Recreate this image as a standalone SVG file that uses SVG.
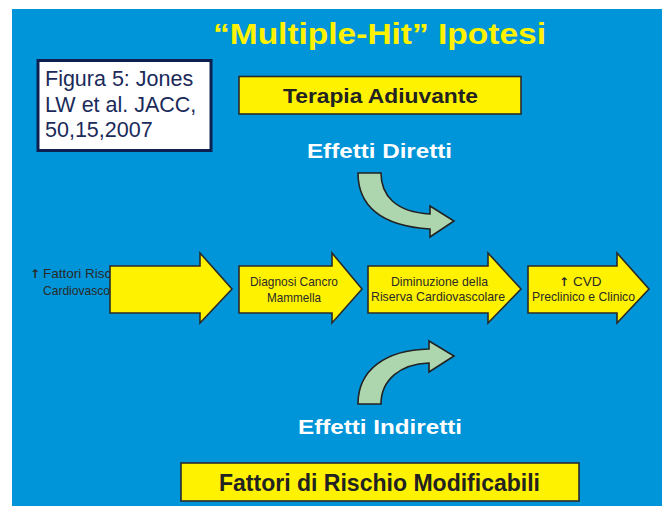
<svg xmlns="http://www.w3.org/2000/svg" width="667" height="506" viewBox="0 0 667 506">
<style>
.hd{font-family:"Liberation Sans",Arial,sans-serif;font-weight:bold;}
.lb{font-family:"Liberation Sans",Arial,sans-serif;font-size:13.5px;fill:#2a2a2a;text-anchor:middle;}
.ar{font-family:"DejaVu Sans",sans-serif;font-weight:bold;}
.box{fill:#FFF200;stroke:#2a2a2a;stroke-width:1.6;}
.blk{fill:#FFF200;stroke:#2a2a2a;stroke-width:1.6;stroke-linejoin:miter;}
.crv{fill:#AED6AE;stroke:#222;stroke-width:1.6;stroke-linejoin:miter;}
.wt{fill:#ffffff;font-size:21px;text-anchor:middle;}
</style>
<rect x="0" y="0" width="667" height="506" fill="#ffffff"/>
<rect x="12" y="9" width="650" height="497" fill="#0094D8"/>

<g id="title">
<text class="hd" x="213" y="44" font-size="30" fill="#FFF200" textLength="333" lengthAdjust="spacingAndGlyphs">“Multiple-Hit” Ipotesi</text>
</g>

<g id="figura">
<rect x="38" y="60.5" width="173" height="90" fill="#ffffff" stroke="#0d2050" stroke-width="3"/>
<text font-family="'Liberation Sans',Arial,sans-serif" font-size="21.5" fill="#1a2a5a">
<tspan x="45" y="86">Figura 5: Jones</tspan>
<tspan x="45" y="111.5">LW et al. JACC,</tspan>
<tspan x="45" y="137">50,15,2007</tspan>
</text>
</g>

<g id="terapia">
<rect class="box" x="239" y="76.5" width="282" height="37.5"/>
<text class="hd" x="380.5" y="103" font-size="21" fill="#222" text-anchor="middle" textLength="195" lengthAdjust="spacingAndGlyphs">Terapia Adiuvante</text>
</g>

<g id="effetti-diretti">
<text class="hd wt" x="379.5" y="158" textLength="145" lengthAdjust="spacingAndGlyphs">Effetti Diretti</text>
</g>

<g id="fattori-cv">
<text class="lb" x="30" y="278" style="text-anchor:start"><tspan class="ar" font-size="12">↑</tspan><tspan dx="3">Fattori Risc</tspan></text>
<text class="lb" x="43" y="295" style="text-anchor:start" textLength="67" lengthAdjust="spacingAndGlyphs">Cardiovasco</text>
</g>

<g id="connectors">
<path class="crv" d="M358,173 L381,173 C381,195 395,212 430,214 L430,206 L454,221 L430,237 L430,229 C380,226 358,205 358,173 Z"/>
<path class="crv" d="M358,404 C358,370 385,350 429,349 L429,341 L454,356 L429,372 L429,363 C400,364 381,380 381,404 Z"/>
<path class="blk" d="M110,266 H200 V253 L232,289 L200,323 V313 H110 Z"/>
</g>

<g id="diagnosi">
<path class="blk" d="M239,266 H332 V253 L362,289 L332,323 V313 H239 Z"/>
<text class="lb" x="294" y="286" textLength="88" lengthAdjust="spacingAndGlyphs">Diagnosi Cancro</text>
<text class="lb" x="294" y="302" textLength="54" lengthAdjust="spacingAndGlyphs">Mammella</text>
</g>

<g id="diminuzione">
<path class="blk" d="M368,266 H488 V253 L521,289 L488,323 V313 H368 Z"/>
<text class="lb" x="439.5" y="286" textLength="97" lengthAdjust="spacingAndGlyphs">Diminuzione della</text>
<text class="lb" x="438" y="301" textLength="134" lengthAdjust="spacingAndGlyphs">Riserva Cardiovascolare</text>
</g>

<g id="cvd">
<path class="blk" d="M528,266 H617 V253 L649,289 L617,323 V313 H528 Z"/>
<text class="lb" x="559" y="286" style="text-anchor:start"><tspan class="ar" font-size="12">↑</tspan><tspan dx="4">CVD</tspan></text>
<text class="lb" x="583.5" y="301" textLength="103" lengthAdjust="spacingAndGlyphs">Preclinico e Clinico</text>
</g>

<g id="effetti-indiretti">
<text class="hd wt" x="380" y="434" textLength="164" lengthAdjust="spacingAndGlyphs">Effetti Indiretti</text>
</g>

<g id="fattori-modificabili">
<rect class="box" x="181" y="463" width="398" height="38"/>
<text class="hd" x="379.5" y="491" font-size="23" fill="#222" text-anchor="middle" textLength="321" lengthAdjust="spacingAndGlyphs">Fattori di Rischio Modificabili</text>
</g>
</svg>
